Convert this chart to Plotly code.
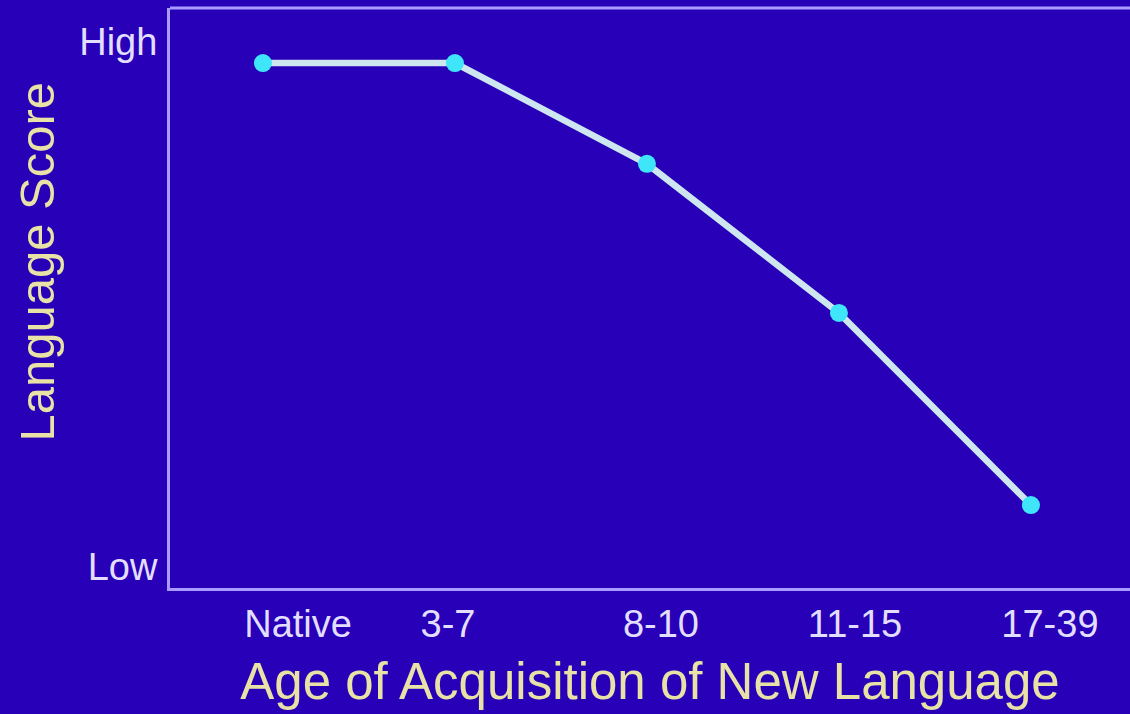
import plotly.graph_objects as go

# Data
categories = ["Native", "3-7", "8-10", "11-15", "17-39"]
score = [0.96, 0.96, 0.768, 0.484, 0.118]   # 0 = Low, 1 = High
y_tick_labels = ["Low", "High"]
y_tick_values = [0, 1]

x_idx = list(range(len(categories)))
# tick label placement (slightly offset from points, as in the reference)
x_tick_pos = [0.183, 0.964, 2.073, 3.084, 4.099]

BG = "#2800b8"
BORDER = "#a99bff"
TICKC = "#e2deff"
TITLEC = "#e8e2a6"
FONT = "Liberation Sans, Arial, sans-serif"

fig = go.Figure()
fig.add_trace(go.Scatter(
    x=x_idx, y=score, mode="lines+markers",
    line=dict(color="#cde6f0", width=6.5),
    marker=dict(color="#3fe6fa", size=18),
    hoverinfo="skip", showlegend=False,
))

fig.update_layout(
    width=1130, height=714,
    margin=dict(l=170, r=0, t=8, b=126),
    paper_bgcolor=BG, plot_bgcolor=BG,
    font=dict(family=FONT, color=TICKC),
    xaxis=dict(
        range=[-0.484, 4.516], showgrid=False, zeroline=False,
        tickmode="array", tickvals=x_tick_pos, ticktext=categories,
        tickfont=dict(size=38, color=TICKC, family=FONT),
        ticks="", ticklabelstandoff=0,
        showline=True, linecolor=BORDER, linewidth=3,
        title=dict(text="Age of Acquisition of New Language",
                   font=dict(size=51, color=TITLEC, family=FONT), standoff=20),
    ),
    yaxis=dict(
        range=[-0.04, 1.0648], showgrid=False, zeroline=False,
        tickmode="array", tickvals=y_tick_values, ticktext=y_tick_labels,
        tickfont=dict(size=38, color=TICKC, family=FONT),
        ticks="", ticklabelstandoff=2,
        showline=True, linecolor=BORDER, linewidth=3,
    ),
    annotations=[dict(text="Language Score", textangle=-90,
                      xref="paper", yref="paper", x=-0.139, y=0.562,
                      xanchor="center", yanchor="middle", showarrow=False,
                      font=dict(size=49, color=TITLEC, family=FONT))],
    shapes=[dict(type="line", xref="paper", yref="paper", x0=0, x1=1, y0=1, y1=1,
                 line=dict(color=BORDER, width=3))],
)

fig.write_html(
    "out.html",
    config={"displayModeBar": False},
    post_script="document.body.style.margin='0';document.body.style.padding='0';",
)
